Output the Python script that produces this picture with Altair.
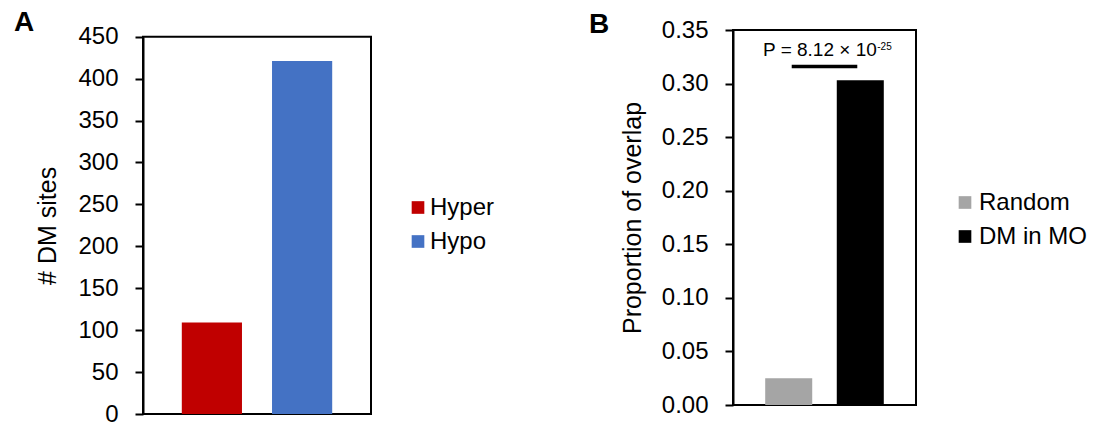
import altair as alt
import pandas as pd

FONT = "Liberation Sans"

# Panel A: number of differentially methylated sites
dm_class = ["Hyper", "Hypo"]
dm_sites = [109, 421]
dm_colors = ["#C00000", "#4472C4"]
dm_ticks = [0, 50, 100, 150, 200, 250, 300, 350, 400, 450]

# Panel B: proportion of overlap
overlap_group = ["Random", "DM in MO"]
overlap_prop = [0.025, 0.303]
overlap_colors = ["#A5A5A5", "#000000"]
overlap_ticks = [0.0, 0.05, 0.10, 0.15, 0.20, 0.25, 0.30, 0.35]

# Significance annotation
p_main = "P = 8.12 × 10"
p_exp = "-25"
bracket_y = 0.316
p_label_y = 0.326

panel_labels = ["A", "B"]

PANEL_H = 384  # common drawing height of both panels

df_a = pd.DataFrame({"cls": dm_class, "sites": dm_sites})
df_b = pd.DataFrame({"grp": overlap_group, "prop": overlap_prop})
df_sig = pd.DataFrame({"a": [overlap_group[0]], "b": [overlap_group[1]],
                       "y": [bracket_y], "ty": [p_label_y],
                       "t": [p_main], "e": [p_exp]})
frame_a = pd.DataFrame({"top": [dm_ticks[-1]], "bot": [dm_ticks[0]]})
frame_b = pd.DataFrame({"top": [overlap_ticks[-1]], "bot": [overlap_ticks[0]]})


def y_axis(values, fmt, title, title_pad):
    return alt.Axis(values=values, format=fmt, title=title, grid=False,
                    labelFont=FONT, labelFontSize=24, labelColor="black",
                    labelPadding=17, tickColor="black", tickSize=8, tickWidth=2,
                    domainColor="black", domainWidth=2,
                    titleFont=FONT, titleFontSize=25, titleFontWeight="normal",
                    titleColor="black", titlePadding=title_pad)


def legend(x, y, offset):
    return alt.Legend(orient="none", legendX=x, legendY=y, title=None,
                      symbolType="square", symbolSize=160, symbolStrokeWidth=0,
                      symbolOpacity=1, labelFont=FONT, labelFontSize=24,
                      labelColor="black", labelOffset=offset, rowPadding=10,
                      padding=0)


def panel_letter(letter, px, py):
    return alt.Chart(pd.DataFrame({"lab": [letter]})).mark_text(
        font=FONT, fontSize=28, fontWeight="bold", color="black",
        align="left", baseline="alphabetic"
    ).encode(text="lab:N", x=alt.value(px), y=alt.value(py))


def frame(df, yscale, width):
    return alt.Chart(df).mark_rect(filled=False, stroke="black",
                                   strokeWidth=2).encode(
        x=alt.value(0), x2=alt.value(width),
        y=alt.Y("top:Q", scale=yscale), y2="bot:Q")


# ---- panel A ----
W_A = 228
x_a = alt.Scale(domain=dm_class, paddingInner=0.333, paddingOuter=0.43)
y_a = alt.Scale(domain=[0, 450], nice=False, range=[PANEL_H, 6.7])

bars_a = alt.Chart(df_a).mark_bar().encode(
    x=alt.X("cls:N", scale=x_a, axis=None),
    y=alt.Y("sites:Q", scale=y_a,
            axis=y_axis(dm_ticks, "d", "# DM sites", 17)),
    color=alt.Color("cls:N", scale=alt.Scale(domain=dm_class, range=dm_colors),
                    legend=legend(263, 165.5, 0)),
)

chart_a = alt.layer(
    frame(frame_a, y_a, W_A), bars_a, panel_letter(panel_labels[0], -129, 1.4)
).properties(width=W_A, height=PANEL_H)

# ---- panel B ----
W_B = 183
x_b = alt.Scale(domain=overlap_group, paddingInner=0.343, paddingOuter=0.45)
y_b = alt.Scale(domain=[0, 0.35], nice=False, range=[375, 0])

bars_b = alt.Chart(df_b).mark_bar().encode(
    x=alt.X("grp:N", scale=x_b, axis=None),
    y=alt.Y("prop:Q", scale=y_b,
            axis=y_axis(overlap_ticks, ".2f", "Proportion of overlap", 16)),
    color=alt.Color("grp:N",
                    scale=alt.Scale(domain=overlap_group, range=overlap_colors),
                    legend=legend(220, 160.5, 2)),
)

bracket = alt.Chart(df_sig).mark_rule(color="black", strokeWidth=3.5,
                                      xOffset=3, x2Offset=-3).encode(
    x=alt.X("a:N", scale=x_b, axis=None, bandPosition=0.5),
    x2=alt.X2("b:N", bandPosition=0.5),
    y=alt.Y("y:Q", scale=y_b),
)

p_text = alt.Chart(df_sig).mark_text(font=FONT, fontSize=19, color="black",
                                     align="right", baseline="alphabetic",
                                     dx=40).encode(
    x=alt.X("b:N", scale=x_b, axis=None, bandPosition=0),
    y=alt.Y("ty:Q", scale=y_b),
    text="t:N",
)

p_sup = alt.Chart(df_sig).mark_text(font=FONT, fontSize=10, color="black",
                                    align="left", baseline="alphabetic",
                                    dx=40.5, dy=-6).encode(
    x=alt.X("b:N", scale=x_b, axis=None, bandPosition=0),
    y=alt.Y("ty:Q", scale=y_b),
    text="e:N",
)

chart_b = alt.layer(
    frame(frame_b, y_b, W_B), bars_b, bracket, p_text, p_sup,
    panel_letter(panel_labels[1], -144, 3)
).properties(width=W_B, height=PANEL_H)

chart = alt.hconcat(chart_a, chart_b, spacing=92).resolve_scale(
    color="independent", x="independent", y="independent"
).resolve_legend(color="independent").properties(
    padding={"left": 13, "top": 8, "right": 0, "bottom": 0}
).configure(font=FONT, view=alt.ViewConfig(stroke="transparent"))

chart.save("out.html", embed_options={"renderer": "svg", "actions": False})
